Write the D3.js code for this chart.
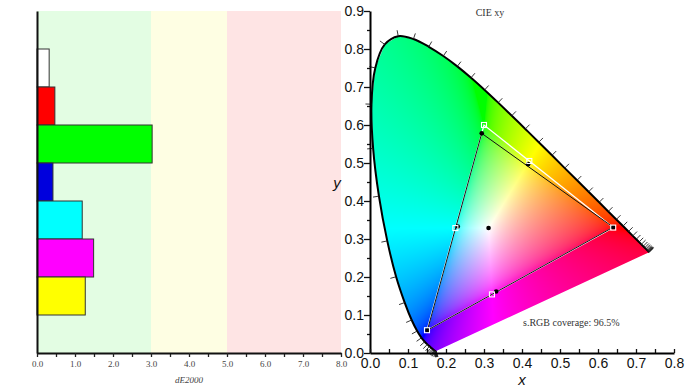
<!DOCTYPE html>
<html>
<head>
<meta charset="utf-8">
<script src="https://cdn.jsdelivr.net/npm/d3@7"></script>
<style>
  body { margin: 0; background: #fff; }
  svg { display: block; }
</style>
</head>
<body>
<svg id="chart" width="693" height="390"></svg>
<script>
// --- data: dE2000 per patch ---
const patches = ['White', 'Red', 'Green', 'Blue', 'Cyan', 'Magenta', 'Yellow'];
const deValues = [0.32, 0.47, 3.03, 0.42, 1.19, 1.49, 1.27];
const patchColors = ['#ffffff', '#ff0000', '#00ff00', '#0000dd', '#00ffff', '#ff00ff', '#ffff00'];
const deZones = [0, 3, 5, 8];
const deZoneColors = ['#e3fde3', '#fefee3', '#fee4e4'];
const deTicks = [0, 1, 2, 3, 4, 5, 6, 7, 8];

// --- data: CIE 1931 spectral locus, 5 nm steps ---
const wavelengths = d3.range(380, 701, 5);
const locusX = [0.1741, 0.1740, 0.1738, 0.1736, 0.1733, 0.1730, 0.1726, 0.1721, 0.1714, 0.1703,
  0.1689, 0.1669, 0.1644, 0.1611, 0.1566, 0.1510, 0.1440, 0.1355, 0.1241, 0.1096,
  0.0913, 0.0687, 0.0454, 0.0235, 0.0082, 0.0039, 0.0139, 0.0389, 0.0743, 0.1142,
  0.1547, 0.1929, 0.2296, 0.2658, 0.3016, 0.3373, 0.3731, 0.4087, 0.4441, 0.4788,
  0.5125, 0.5448, 0.5752, 0.6029, 0.6270, 0.6482, 0.6658, 0.6801, 0.6915, 0.7006,
  0.7079, 0.7140, 0.7190, 0.7230, 0.7260, 0.7283, 0.7300, 0.7311, 0.7320, 0.7327,
  0.7334, 0.7340, 0.7344, 0.7346, 0.7347];
const locusY = [0.0050, 0.0050, 0.0049, 0.0049, 0.0048, 0.0048, 0.0048, 0.0048, 0.0051, 0.0058,
  0.0069, 0.0086, 0.0109, 0.0138, 0.0177, 0.0227, 0.0297, 0.0399, 0.0578, 0.0868,
  0.1327, 0.2007, 0.2950, 0.4127, 0.5384, 0.6548, 0.7502, 0.8120, 0.8338, 0.8262,
  0.8059, 0.7816, 0.7543, 0.7243, 0.6923, 0.6589, 0.6245, 0.5896, 0.5547, 0.5202,
  0.4866, 0.4544, 0.4242, 0.3965, 0.3725, 0.3514, 0.3340, 0.3197, 0.3083, 0.2993,
  0.2920, 0.2859, 0.2809, 0.2770, 0.2740, 0.2717, 0.2700, 0.2689, 0.2680, 0.2673,
  0.2666, 0.2660, 0.2656, 0.2654, 0.2653];

// --- data: sRGB reference vs measured chromaticities (R, G, B, C, M, Y) ---
const refPrimaries = [[0.640, 0.330], [0.300, 0.600], [0.150, 0.060]];
const refSecondaries = [[0.2247, 0.3287], [0.3209, 0.1542], [0.4193, 0.5053]];
const measPrimaries = [[0.640, 0.331], [0.294, 0.578], [0.151, 0.060]];
const measSecondaries = [[0.231, 0.333], [0.332, 0.162], [0.416, 0.497]];
const measWhite = [0.312, 0.329];
const xyTicks = [0, 0.1, 0.2, 0.3, 0.4, 0.5, 0.6, 0.7, 0.8, 0.9];
const coverageText = 's.RGB coverage: 96.5%';

const svg = d3.select('#chart');
const serif = '"Liberation Serif", "DejaVu Serif", serif';
const sans = '"Liberation Sans", Arial, sans-serif';

// ================= dE2000 bars =================
const left = { x0: 37, x1: 341, y0: 11, y1: 353 };
const xL = d3.scaleLinear().domain([0, 8]).range([left.x0, left.x1]);
const yL = d3.scaleBand().domain(patches).range([left.y0, left.y1])
  .paddingInner(0).paddingOuter(1);

const gL = svg.append('g');

gL.selectAll('rect.zone')
  .data(deZoneColors)
  .join('rect')
  .attr('class', 'zone')
  .attr('x', (d, i) => xL(deZones[i]))
  .attr('y', left.y0)
  .attr('width', (d, i) => xL(deZones[i + 1]) - xL(deZones[i]))
  .attr('height', left.y1 - left.y0)
  .attr('fill', (d) => d);

gL.selectAll('rect.bar')
  .data(patches)
  .join('rect')
  .attr('class', 'bar')
  .attr('x', xL(0))
  .attr('y', (d) => yL(d))
  .attr('width', (d, i) => xL(deValues[i]) - xL(0))
  .attr('height', yL.bandwidth())
  .attr('fill', (d, i) => patchColors[i])
  .attr('stroke', '#333')
  .attr('stroke-width', 1);

// minor ticks
gL.append('g')
  .attr('transform', `translate(0,${left.y1})`)
  .call(d3.axisBottom(xL).tickValues(d3.range(1, 16, 2).map((v) => v / 2))
    .tickSize(4).tickFormat(''))
  .call((g) => g.select('.domain').remove())
  .call((g) => g.selectAll('line').attr('stroke', '#222').attr('stroke-width', 1.3));

const axL = gL.append('g')
  .attr('transform', `translate(0,${left.y1})`)
  .call(d3.axisBottom(xL).tickValues(deTicks).tickSize(4).tickSizeOuter(0)
    .tickPadding(4).tickFormat(d3.format('.1f')));
axL.select('.domain').attr('stroke', '#111').attr('stroke-width', 2);
axL.selectAll('line').attr('stroke', '#222').attr('stroke-width', 1.3);
axL.selectAll('text').attr('font-family', serif).attr('font-size', 9).attr('fill', '#444');

const ayL = gL.append('g')
  .attr('transform', `translate(${left.x0},0)`)
  .call(d3.axisLeft(yL).tickSize(0).tickSizeOuter(0).tickFormat(''));
ayL.select('.domain').attr('stroke', '#111').attr('stroke-width', 2);

gL.append('text')
  .attr('x', (left.x0 + left.x1) / 2)
  .attr('y', 383)
  .attr('text-anchor', 'middle')
  .attr('font-family', serif)
  .attr('font-style', 'italic')
  .attr('font-size', 9)
  .attr('fill', '#444')
  .text('dE2000');

// ================= CIE xy =================
const right = { x0: 370, x1: 674, y0: 11, y1: 353 };
const xR = d3.scaleLinear().domain([0, 0.8]).range([right.x0, right.x1]);
const yR = d3.scaleLinear().domain([0, 0.9]).range([right.y1, right.y0]);
const gR = svg.append('g');

const locus = wavelengths.map((w, i) => [xR(locusX[i]), yR(locusY[i])]);

// chromaticity colour fill: xy -> linear sRGB, half desaturated, max-normalised
function xyToRgb(x, y) {
  const X = x / y;
  const Z = (1 - x - y) / y;
  let r = 3.2406 * X - 1.5372 - 0.4986 * Z;
  let g = -0.9689 * X + 1.8758 + 0.0415 * Z;
  let b = 0.0557 * X - 0.2040 + 1.0570 * Z;
  const mn = Math.min(r, g, b);
  if (mn < 0) {
    r -= mn * 0.5; g -= mn * 0.5; b -= mn * 0.5;
  }
  r = Math.max(r, 0); g = Math.max(g, 0); b = Math.max(b, 0);
  const m = Math.max(r, g, b) || 1;
  const gam = (c) => {
    const v = c / m;
    return 255 * (v <= 0.0031308 ? 12.92 * v : 1.055 * Math.pow(v, 1 / 2.4) - 0.055);
  };
  return [gam(r), gam(g), gam(b)];
}

const cw = right.x1 - right.x0;
const ch = right.y1 - right.y0;
const canvas = document.createElement('canvas');
canvas.width = cw;
canvas.height = ch;
const ctx = canvas.getContext('2d');
const img = ctx.createImageData(cw, ch);
for (let j = 0; j < ch; j += 1) {
  const cy = yR.invert(right.y0 + j + 0.5);
  for (let i = 0; i < cw; i += 1) {
    const cx = xR.invert(right.x0 + i + 0.5);
    const k = (j * cw + i) * 4;
    if (cy > 0.001) {
      const [r, g, b] = xyToRgb(cx, cy);
      img.data[k] = r; img.data[k + 1] = g; img.data[k + 2] = b; img.data[k + 3] = 255;
    }
  }
}
ctx.putImageData(img, 0, 0);

svg.append('defs').append('clipPath').attr('id', 'locusClip')
  .append('path').attr('d', `${d3.line()(locus)}Z`);

gR.append('image')
  .attr('href', canvas.toDataURL())
  .attr('x', right.x0).attr('y', right.y0)
  .attr('width', cw).attr('height', ch)
  .attr('clip-path', 'url(#locusClip)');

gR.append('path')
  .attr('d', d3.line().curve(d3.curveCatmullRom)(locus))
  .attr('fill', 'none')
  .attr('stroke', '#000')
  .attr('stroke-width', 2);

// wavelength ticks along the locus
const cen = [xR(0.33), yR(0.33)];
const locusTicks = locus.map((p, i) => {
  const a = locus[Math.max(i - 1, 0)];
  const b = locus[Math.min(i + 1, locus.length - 1)];
  let nx = -(b[1] - a[1]);
  let ny = b[0] - a[0];
  const len = Math.hypot(nx, ny) || 1;
  nx /= len; ny /= len;
  if (nx * (p[0] - cen[0]) + ny * (p[1] - cen[1]) < 0) { nx = -nx; ny = -ny; }
  return [p, [p[0] + nx * 6, p[1] + ny * 6]];
});
gR.selectAll('line.wl')
  .data(locusTicks)
  .join('line')
  .attr('class', 'wl')
  .attr('x1', (d) => d[0][0]).attr('y1', (d) => d[0][1])
  .attr('x2', (d) => d[1][0]).attr('y2', (d) => d[1][1])
  .attr('stroke', '#222')
  .attr('stroke-width', 0.9);

const tri = (pts) => `${d3.line()(pts.map((p) => [xR(p[0]), yR(p[1])]))}Z`;

gR.append('path').attr('d', tri(refPrimaries))
  .attr('fill', 'none').attr('stroke', '#fff').attr('stroke-width', 1.3);
gR.append('path').attr('d', tri(measPrimaries))
  .attr('fill', 'none').attr('stroke', '#111').attr('stroke-width', 1);

gR.selectAll('circle.meas')
  .data([...measPrimaries, ...measSecondaries, measWhite])
  .join('circle')
  .attr('class', 'meas')
  .attr('cx', (d) => xR(d[0]))
  .attr('cy', (d) => yR(d[1]))
  .attr('r', 2.3)
  .attr('fill', '#000');

gR.selectAll('rect.ref')
  .data([...refPrimaries, ...refSecondaries])
  .join('rect')
  .attr('class', 'ref')
  .attr('x', (d) => xR(d[0]) - 2.5)
  .attr('y', (d) => yR(d[1]) - 2.5)
  .attr('width', 5).attr('height', 5)
  .attr('fill', 'none')
  .attr('stroke', '#fff')
  .attr('stroke-width', 1.1);

// axes
const minor = d3.range(1, 18, 2).map((v) => v / 20);
gR.append('g')
  .attr('transform', `translate(${right.x0},0)`)
  .call(d3.axisLeft(yR).tickValues(minor).tickSize(3).tickFormat(''))
  .call((g) => g.select('.domain').remove())
  .call((g) => g.selectAll('line').attr('stroke', '#111').attr('stroke-width', 1.3));
const ayR = gR.append('g')
  .attr('transform', `translate(${right.x0},0)`)
  .call(d3.axisLeft(yR).tickValues(xyTicks).tickSize(6).tickSizeOuter(0)
    .tickPadding(0).tickFormat(d3.format('.1f')));
ayR.select('.domain').attr('stroke', '#000').attr('stroke-width', 2);
ayR.selectAll('line').attr('stroke', '#111').attr('stroke-width', 1.3);
ayR.selectAll('text').attr('font-family', sans).attr('font-size', 14).attr('fill', '#111');

gR.append('g')
  .attr('transform', `translate(0,${right.y1})`)
  .call(d3.axisBottom(xR).tickValues([...xyTicks.slice(0, 9), ...minor.slice(0, 8)])
    .tickSize(-4).tickFormat(''))
  .call((g) => g.select('.domain').remove())
  .call((g) => g.selectAll('line').attr('stroke', '#111').attr('stroke-width', 1.3));
const axR = gR.append('g')
  .attr('transform', `translate(0,${right.y1})`)
  .call(d3.axisBottom(xR).tickValues(xyTicks.slice(0, 9)).tickSize(0).tickSizeOuter(0)
    .tickPadding(5).tickFormat(d3.format('.1f')));
axR.select('.domain').attr('stroke', '#000').attr('stroke-width', 2);
axR.selectAll('text').attr('font-family', sans).attr('font-size', 14).attr('fill', '#111');

gR.append('text')
  .attr('x', (right.x0 + right.x1) / 2).attr('y', 385)
  .attr('text-anchor', 'middle')
  .attr('font-family', sans).attr('font-style', 'italic').attr('font-size', 15)
  .attr('fill', '#111')
  .text('x');
gR.append('text')
  .attr('x', 337).attr('y', 188)
  .attr('text-anchor', 'middle')
  .attr('font-family', sans).attr('font-style', 'italic').attr('font-size', 15)
  .attr('fill', '#111')
  .text('y');

gR.append('text')
  .attr('x', 490).attr('y', 16)
  .attr('text-anchor', 'middle')
  .attr('font-family', serif).attr('font-size', 10)
  .attr('fill', '#333')
  .text('CIE xy');

gR.append('text')
  .attr('x', 523).attr('y', 326)
  .attr('font-family', serif).attr('font-size', 10)
  .attr('fill', '#333')
  .text(coverageText);
</script>
</body>
</html>
